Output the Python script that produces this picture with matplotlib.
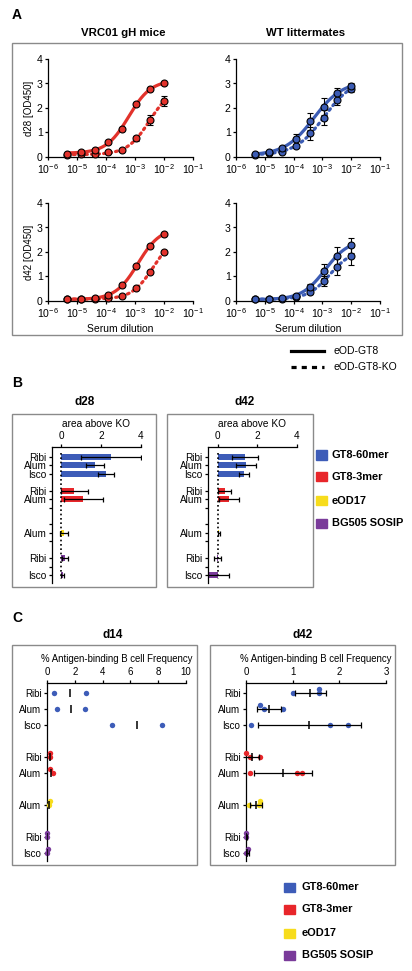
import numpy as np
import matplotlib
matplotlib.use('Agg')
from matplotlib import pyplot as plt
from matplotlib.patches import Rectangle
from matplotlib.lines import Line2D
from matplotlib.ticker import FixedLocator, FuncFormatter, NullLocator

plt.rcParams['font.family'] = ['Liberation Sans', 'DejaVu Sans']
plt.rcParams['mathtext.default'] = 'regular'

W, H = 412, 971

# ---- A: ELISA, OD450 vs serum dilution ----
dilution = [1e-2, 3.3e-3, 1.1e-3, 3.7e-4, 1.2e-4, 4.1e-5, 1.4e-5, 4.6e-6]

vrc_d28_gt8 = [3.0, 2.78, 2.17, 1.15, 0.63, 0.3, 0.22, 0.12]
vrc_d28_gt8_err = [0.04, 0.05, 0.05, 0.04, 0.03, 0.02, 0.02, 0.02]
vrc_d28_ko = [2.27, 1.5, 0.76, 0.27, 0.19, 0.11, 0.11, 0.1]
vrc_d28_ko_err = [0.2, 0.2, 0.1, 0.04, 0.03, 0.02, 0.02, 0.02]

wt_d28_gt8 = [2.9, 2.6, 2.05, 1.45, 0.75, 0.36, 0.21, 0.12]
wt_d28_gt8_err = [0.1, 0.22, 0.35, 0.33, 0.2, 0.08, 0.05, 0.03]
wt_d28_ko = [2.77, 2.33, 1.6, 0.96, 0.45, 0.22, 0.15, 0.1]
wt_d28_ko_err = [0.1, 0.2, 0.3, 0.25, 0.1, 0.05, 0.03, 0.02]

vrc_d42_gt8 = [2.73, 2.25, 1.44, 0.64, 0.23, 0.12, 0.08, 0.08]
vrc_d42_gt8_err = [0.04, 0.04, 0.04, 0.03, 0.02, 0.02, 0.02, 0.02]
vrc_d42_ko = [1.99, 1.19, 0.52, 0.2, 0.12, 0.1, 0.07, 0.07]
vrc_d42_ko_err = [0.04, 0.04, 0.03, 0.02, 0.02, 0.02, 0.02, 0.02]

wt_d42_gt8 = [2.27, 1.84, 1.23, 0.58, 0.22, 0.12, 0.08, 0.07]
wt_d42_gt8_err = [0.3, 0.38, 0.3, 0.1, 0.05, 0.03, 0.02, 0.02]
wt_d42_ko = [1.84, 1.4, 0.81, 0.36, 0.15, 0.1, 0.08, 0.07]
wt_d42_ko_err = [0.38, 0.35, 0.2, 0.08, 0.04, 0.03, 0.02, 0.02]

# ---- B: area above KO ----
immunogens = ['GT8-60mer', 'GT8-3mer', 'eOD17', 'BG505 SOSIP']
adjuvants = ['Ribi', 'Alum', 'Isco']
b_immunogen = ['GT8-60mer', 'GT8-60mer', 'GT8-60mer', 'GT8-3mer', 'GT8-3mer',
               'eOD17', 'BG505 SOSIP', 'BG505 SOSIP']
b_adjuvant = ['Ribi', 'Alum', 'Isco', 'Ribi', 'Alum', 'Alum', 'Ribi', 'Isco']
d28_area = [2.5, 1.7, 2.23, 0.67, 1.12, 0.15, 0.2, 0.08]
d28_sd = [1.5, 0.47, 0.4, 0.66, 0.96, 0.2, 0.15, 0.07]
d42_area = [1.37, 1.42, 1.3, 0.34, 0.55, 0.05, -0.02, -0.47]
d42_sd = [0.65, 0.52, 0.25, 0.34, 0.5, 0.04, 0.18, 1.05]

# ---- C: antigen-binding B cell frequency (%) ----
c_immunogen = b_immunogen
c_adjuvant = b_adjuvant
c_d14 = [[0.48, 2.8], [0.72, 2.7], [4.7, 8.27], [0.2, 0.2], [0.4, 0.2],
         [0.15, 0.2], [0.02, 0.03], [0.02, 0.04]]
c_d42 = [[1.0, 1.57, 1.57], [0.39, 0.29, 0.79], [0.1, 1.79, 2.18],
         [0.09, 0.3, 0.0], [0.09, 1.09, 1.2], [0.06, 0.27, 0.3],
         [0.0, 0.01], [0.0, 0.05]]

colors = {'GT8-60mer': '#3d5cb8', 'GT8-3mer': '#e8262a',
          'eOD17': '#f7dc1c', 'BG505 SOSIP': '#7a3b9a'}
RED = '#e2322b'
BLUE = '#3c5cb4'

fig = plt.figure(figsize=(W / 100, H / 100), dpi=100)


def px_axes(l, t, r, b):
    return fig.add_axes([l / W, 1 - b / H, (r - l) / W, (b - t) / H])


def box(l, t, r, b):
    fig.add_artist(Rectangle((l / W, 1 - b / H), (r - l) / W, (b - t) / H,
                             transform=fig.transFigure, fill=False,
                             ec='#8a8a8a', lw=1.0))


def text(x, y, s, **kw):
    kw.setdefault('ha', 'center')
    kw.setdefault('va', 'center')
    fig.text(x / W, 1 - y / H, s, **kw)


def fit_curve(x, y):
    # 4-parameter logistic in log10(dilution), grid search on EC50 and slope
    lx = np.log10(x)
    y = np.asarray(y, float)
    best = None
    for c in np.linspace(-5.5, -0.5, 126):
        for h in np.linspace(0.4, 3.0, 40):
            s = 1 / (1 + 10 ** ((c - lx) * h))
            A = np.column_stack([1 - s, s])
            coef = np.linalg.lstsq(A, y, rcond=None)[0]
            err = np.sum((A @ coef - y) ** 2)
            if best is None or err < best[0]:
                best = (err, c, h, coef)
    _, c, h, (bot, top) = best
    xs = np.logspace(lx.min(), lx.max(), 200)
    s = 1 / (1 + 10 ** ((c - np.log10(xs)) * h))
    return xs, bot + (top - bot) * s


def elisa(ax, col, gt8, gt8_err, ko, ko_err, ylabel, xlabel):
    for vals, err, ls in [(ko, ko_err, (0, (0.6, 1.3))), (gt8, gt8_err, '-')]:
        xs, ys = fit_curve(dilution, vals)
        ax.plot(xs, ys, color=col, lw=2.3, ls=ls, dash_capstyle='round',
                zorder=2)
        ax.errorbar(dilution, vals, yerr=err, fmt='o', color=col, ms=5,
                    mec='k', mew=0.8, ecolor='k', elinewidth=0.8, capsize=2,
                    capthick=0.8, zorder=3, clip_on=False)
    ax.set_xscale('log')
    ax.set_xlim(1e-6, 1e-1)
    ax.set_ylim(0, 4)
    ax.xaxis.set_major_locator(FixedLocator([10.0 ** k for k in range(-6, 0)]))
    ax.xaxis.set_minor_locator(NullLocator())
    ax.xaxis.set_major_formatter(
        FuncFormatter(lambda v, p: r'$10^{%d}$' % round(np.log10(v))))
    ax.set_yticks([0, 1, 2, 3, 4])
    for s in ['top', 'right']:
        ax.spines[s].set_visible(False)
    for s in ['left', 'bottom']:
        ax.spines[s].set_linewidth(0.9)
    ax.tick_params(labelsize=7.6, length=2.5, width=0.9, pad=1.2)
    ax.patch.set_alpha(0)
    if ylabel:
        ax.set_ylabel(ylabel, fontsize=7, labelpad=2)
    if xlabel:
        ax.set_xlabel(xlabel, fontsize=7.5, labelpad=3)


text(17, 15, 'A', fontsize=10, fontweight='bold')
text(123, 33, 'VRC01 gH mice', fontsize=8.2, fontweight='bold')
text(306, 33, 'WT littermates', fontsize=8.2, fontweight='bold')
box(12, 43, 402, 335)

elisa(px_axes(48, 59, 193, 157), RED, vrc_d28_gt8, vrc_d28_gt8_err,
      vrc_d28_ko, vrc_d28_ko_err, 'd28 [OD450]', None)
elisa(px_axes(236, 59, 380, 157), BLUE, wt_d28_gt8, wt_d28_gt8_err,
      wt_d28_ko, wt_d28_ko_err, None, None)
elisa(px_axes(48, 203, 193, 301), RED, vrc_d42_gt8, vrc_d42_gt8_err,
      vrc_d42_ko, vrc_d42_ko_err, 'd42 [OD450]', 'Serum dilution')
elisa(px_axes(236, 203, 380, 301), BLUE, wt_d42_gt8, wt_d42_gt8_err,
      wt_d42_ko, wt_d42_ko_err, None, 'Serum dilution')

fig.add_artist(Line2D([291 / W, 324 / W], [1 - 351 / H] * 2,
                      transform=fig.transFigure, color='k', lw=2.3))
fig.add_artist(Line2D([291 / W, 324 / W], [1 - 367 / H] * 2,
                      transform=fig.transFigure, color='k', lw=2.3,
                      ls=(0, (1.6, 1.6))))
text(333, 351, 'eOD-GT8', fontsize=7.5, ha='left')
text(333, 367, 'eOD-GT8-KO', fontsize=7.5, ha='left')


# ---- B ----
def row_pos(imm, adj):
    return immunogens.index(imm) * 4 + adjuvants.index(adj)


def area_panel(ax, vals, sd, xmin):
    pos = [row_pos(i, a) for i, a in zip(b_immunogen, b_adjuvant)]
    cols = [colors[i] for i in b_immunogen]
    ax.barh(pos, vals, height=0.72, color=cols, zorder=2)
    ax.errorbar(vals, pos, xerr=sd, fmt='none', ecolor='k', elinewidth=0.9,
                capsize=1.8, capthick=0.9, zorder=3)
    ax.plot([0, 0], [-0.45, 14.45], color='k', lw=1.2, ls=(0, (1, 1.6)),
            zorder=4)
    ticks = [g * 4 + k for g in range(len(immunogens)) for k in range(3)]
    labels = [a if p in pos else '' for p, a in
              zip(ticks, adjuvants * len(immunogens))]
    ax.set_yticks(ticks)
    ax.set_yticklabels(labels)
    ax.set_ylim(14.95, -1.19)
    ax.set_xlim(xmin, 4)
    ax.set_xticks([0, 2, 4])
    ax.xaxis.set_ticks_position('top')
    ax.xaxis.set_label_position('top')
    ax.set_xlabel('area above KO', fontsize=7.3, labelpad=3)
    for s in ['bottom', 'right']:
        ax.spines[s].set_visible(False)
    for s in ['left', 'top']:
        ax.spines[s].set_linewidth(0.9)
    ax.tick_params(labelsize=7.2, length=2.5, width=0.9, pad=1.5)
    ax.patch.set_alpha(0)


text(17, 383, 'B', fontsize=10, fontweight='bold')
text(85, 402, 'd28', fontsize=8.5, fontweight='bold')
text(245, 402, 'd42', fontsize=8.5, fontweight='bold')
box(12, 414, 156, 587)
box(167, 414, 313, 587)
area_panel(px_axes(52, 447, 141, 583), d28_area, d28_sd, -0.45)
area_panel(px_axes(208, 447, 297, 583), d42_area, d42_sd, -0.5)


def legend(x_patch, x_text, ys):
    for name, y in zip(immunogens, ys):
        fig.add_artist(Rectangle((x_patch / W, 1 - (y + 4.5) / H), 11 / W,
                                 9 / H, transform=fig.transFigure,
                                 color=colors[name]))
        text(x_text, y, name, fontsize=7.9, fontweight='bold', ha='left')


legend(316, 332, [455, 477, 501, 523])


# ---- C ----
def freq_panel(ax, data, xmax, px_per_unit, show_sd):
    group = [immunogens.index(i) for i in c_immunogen]
    pos = [k + g for k, g in enumerate(group)]
    for p, imm, pts in zip(pos, c_immunogen, data):
        offs = []
        for i, v in enumerate(pts):
            n = sum(abs(v - pts[j]) * px_per_unit < 5 for j in range(i))
            offs.append([0, -0.22, 0.22][n % 3])
        ax.plot(pts, [p + o for o in offs], 'o', color=colors[imm], ms=3.9,
                mew=0, zorder=3, clip_on=False)
        m = np.mean(pts)
        if show_sd:
            ax.errorbar([m], [p], xerr=[np.std(pts, ddof=1)], fmt='none',
                        ecolor='k', elinewidth=0.9, capsize=2.2,
                        capthick=0.9, zorder=4)
        ax.plot([m], [p], marker='|', color='k', ms=6, mew=1.1, zorder=4)
    ax.set_yticks(pos)
    ax.set_yticklabels(c_adjuvant)
    ax.set_ylim(10.5, -0.625)
    ax.set_xlim(0, xmax)
    ax.xaxis.set_ticks_position('top')
    ax.xaxis.set_label_position('top')
    ax.set_xlabel('% Antigen-binding B cell Frequency', fontsize=6.9,
                  labelpad=4)
    for s in ['bottom', 'right']:
        ax.spines[s].set_visible(False)
    for s in ['left', 'top']:
        ax.spines[s].set_linewidth(0.9)
    ax.tick_params(labelsize=7, length=2.5, width=0.9, pad=1.5)
    ax.patch.set_alpha(0)


text(17, 618, 'C', fontsize=10, fontweight='bold')
text(113, 635, 'd14', fontsize=8.5, fontweight='bold')
text(303, 635, 'd42', fontsize=8.5, fontweight='bold')
box(12, 645, 197, 865)
box(210, 645, 395, 865)
ax = px_axes(47, 683, 186, 861)
freq_panel(ax, c_d14, 10, 13.9, False)
ax.set_xticks([0, 2, 4, 6, 8, 10])
ax = px_axes(246, 683, 386, 861)
freq_panel(ax, c_d42, 3, 46.6, True)
ax.set_xticks([0, 1, 2, 3])

legend(284, 302, [887, 909, 933, 955])

fig.savefig('out.png', dpi=100)
